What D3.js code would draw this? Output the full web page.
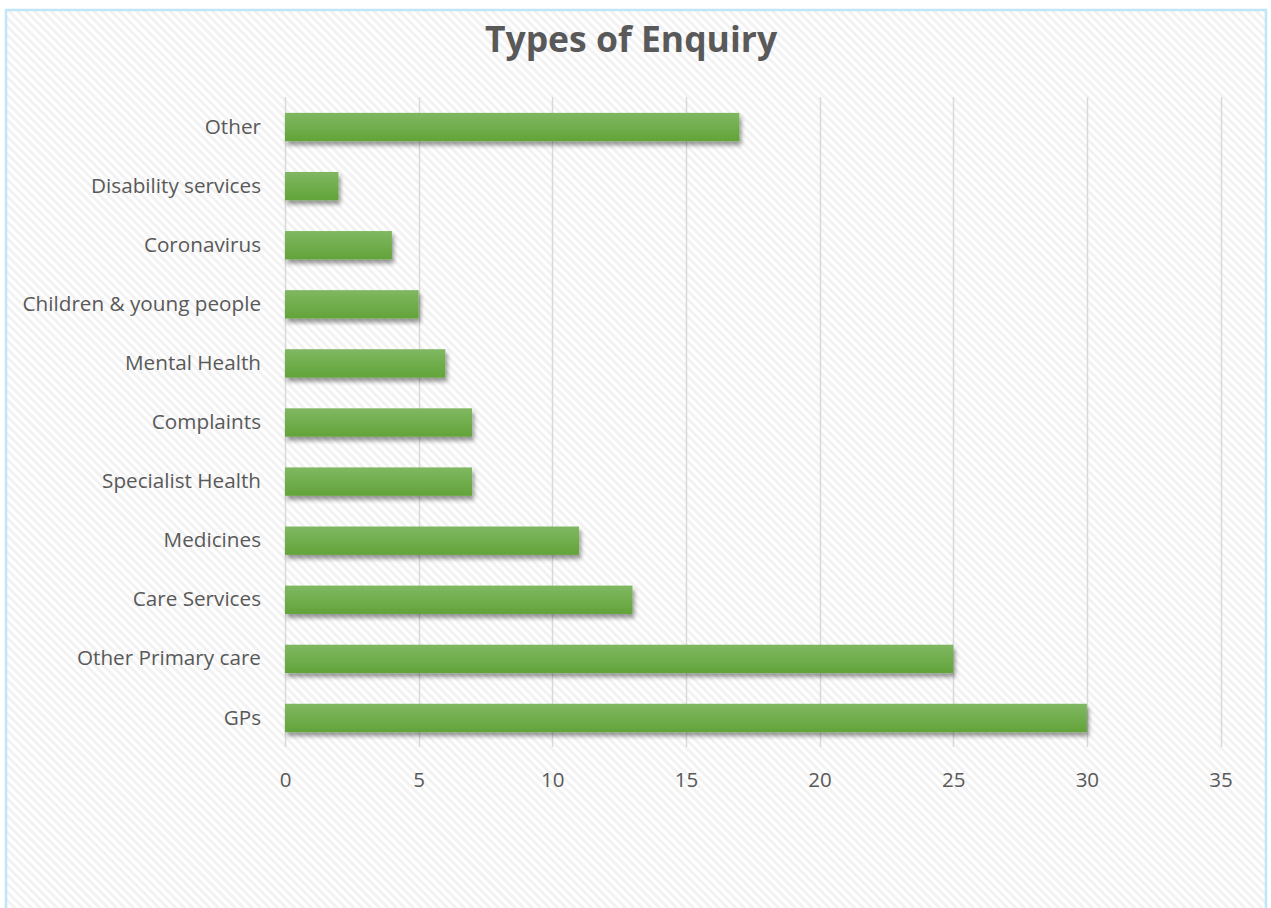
<!DOCTYPE html>
<html><head><meta charset="utf-8">
<script src="https://cdn.jsdelivr.net/npm/d3@7"></script>
<style>body{margin:0;background:#fff;}svg{display:block;font-family:"Open Sans",sans-serif;}</style>
</head><body><svg id="c" width="1271" height="908"></svg>
<script>
const categories = ["Other","Disability services","Coronavirus","Children & young people","Mental Health","Complaints","Specialist Health","Medicines","Care Services","Other Primary care","GPs"];
const values = [17,2,4,5,6,7,7,11,13,25,30];
const xTicks = [0,5,10,15,20,25,30,35];
const title = "Types of Enquiry";

const svg = d3.select("#c");
const defs = svg.append("defs");
const pat = defs.append("pattern").attr("id","hatch").attr("patternUnits","userSpaceOnUse")
  .attr("width",6).attr("height",6).attr("patternTransform","rotate(45)");
pat.append("rect").attr("width",6).attr("height",6).attr("fill","#ffffff");
pat.append("rect").attr("width",6).attr("height",3).attr("fill","#f2f2f2");
const grad = defs.append("linearGradient").attr("id","barg").attr("x1",0).attr("y1",0).attr("x2",0).attr("y2",1);
grad.append("stop").attr("offset","0%").attr("stop-color","#80b862");
grad.append("stop").attr("offset","100%").attr("stop-color","#62a339");
const flt = defs.append("filter").attr("id","sh").attr("x","-10%").attr("y","-30%").attr("width","130%").attr("height","190%");
flt.append("feGaussianBlur").attr("in","SourceAlpha").attr("stdDeviation",2.2).attr("result","b");
flt.append("feOffset").attr("in","b").attr("dx",1.5).attr("dy",4).attr("result","o");
flt.append("feComponentTransfer").attr("in","o").attr("result","o2").append("feFuncA").attr("type","linear").attr("slope",0.4);
const fm = flt.append("feMerge");
fm.append("feMergeNode").attr("in","o2");
fm.append("feMergeNode").attr("in","SourceGraphic");

svg.append("rect").attr("x",6).attr("y",10).attr("width",1260).attr("height",910)
  .attr("fill","url(#hatch)").attr("stroke","#bfe7f7").attr("stroke-width",2.5);

const x = d3.scaleLinear().domain([0,35]).range([285,1220.5]);
const y = d3.scaleBand().domain(categories).range([97.5,747.5]).paddingInner(0.52).paddingOuter(0.26);

svg.append("text").attr("x",631).attr("y",52).attr("text-anchor","middle")
  .attr("font-size",35.5).attr("font-weight","bold").attr("fill","#595959").text(title);

svg.append("g").selectAll("line").data(xTicks).join("line")
  .attr("x1",d=>Math.round(x(d))+0.5).attr("x2",d=>Math.round(x(d))+0.5)
  .attr("y1",97).attr("y2",747).attr("stroke","#d9d9d9").attr("stroke-width",1.5);

svg.append("g").selectAll("rect").data(categories).join("rect")
  .attr("x",x(0)).attr("y",d=>y(d)).attr("width",(d,i)=>x(values[i])-x(0)).attr("height",y.bandwidth())
  .attr("fill","url(#barg)").attr("filter","url(#sh)");

const xAxis = d3.axisBottom(x).tickValues(xTicks).tickSize(0).tickPadding(0);
const gx = svg.append("g").attr("transform","translate(0,787)").call(xAxis);
gx.select(".domain").remove();
gx.selectAll("text").attr("font-size",20.5).attr("fill","#595959").attr("font-family","'Open Sans',sans-serif").attr("dy",0);

const yAxis = d3.axisLeft(y).tickSize(0).tickPadding(0);
const gy = svg.append("g").attr("transform","translate(261,0)").call(yAxis);
gy.select(".domain").remove();
gy.selectAll("text").attr("font-size",20.7).attr("fill","#595959").attr("font-family","'Open Sans',sans-serif");
</script></body></html>
